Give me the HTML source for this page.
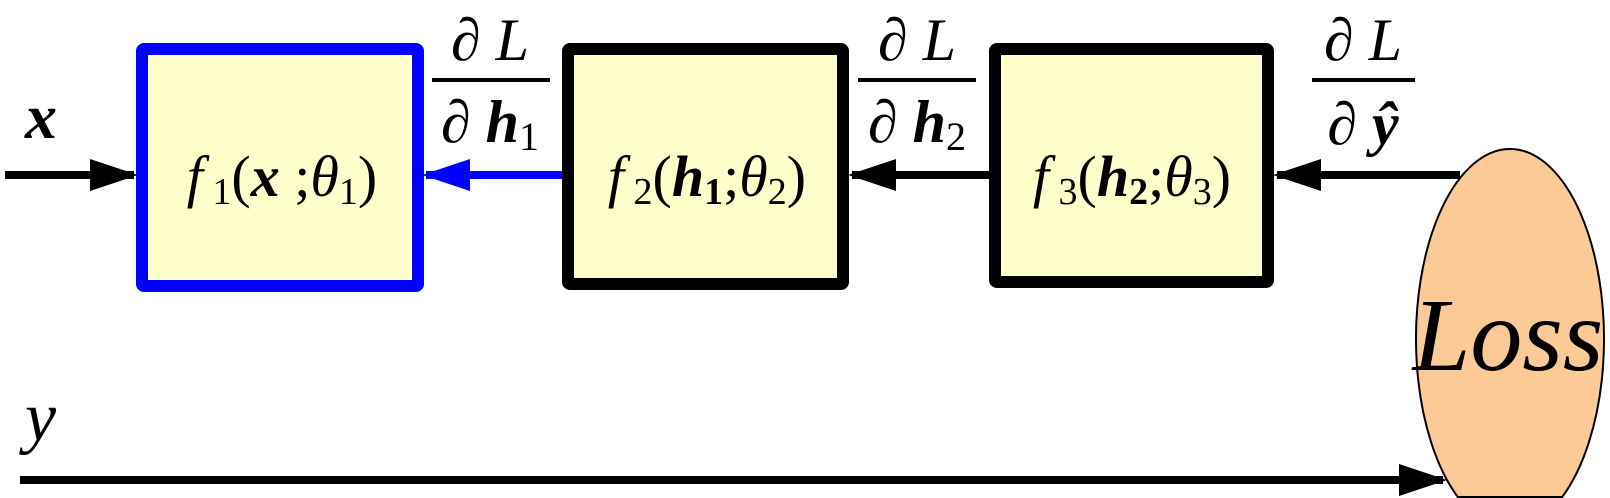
<!DOCTYPE html>
<html><head><meta charset="utf-8"><style>
html,body{margin:0;padding:0;background:#fff;width:1610px;height:498px;overflow:hidden}
svg{display:block;overflow:hidden}
text,tspan{font-family:"Liberation Serif","DejaVu Serif",serif}
</style></head><body>
<svg width="1610" height="498" viewBox="0 0 1610 498" font-family="Liberation Serif, DejaVu Serif, serif">
<defs>
<marker id="ab" markerWidth="6" markerHeight="4" refX="5.5" refY="2" orient="auto" markerUnits="strokeWidth"><path d="M0,0 L6,2 L0,4 Z" fill="#000"/></marker>
<marker id="au" markerWidth="6" markerHeight="4" refX="5.5" refY="2" orient="auto" markerUnits="strokeWidth"><path d="M0,0 L6,2 L0,4 Z" fill="#0000ff"/></marker>
</defs>
<line x1="5" y1="175" x2="134" y2="175" stroke="#000" stroke-width="8" marker-end="url(#ab)"/>
<line x1="562" y1="175" x2="426" y2="175" stroke="#0000ff" stroke-width="8" marker-end="url(#au)"/>
<line x1="989" y1="175" x2="852" y2="175" stroke="#000" stroke-width="8" marker-end="url(#ab)"/>
<line x1="1460" y1="175" x2="1277" y2="175" stroke="#000" stroke-width="8" marker-end="url(#ab)"/>
<line x1="20" y1="480" x2="1443" y2="480" stroke="#000" stroke-width="8" marker-end="url(#ab)"/>
<rect x="142" y="49" width="276" height="237" fill="#ffffcc" stroke="#0000ff" stroke-width="12" rx="2"/>
<rect x="568" y="49" width="275" height="235" fill="#ffffcc" stroke="#000" stroke-width="12" rx="2"/>
<rect x="995" y="49" width="273" height="233" fill="#ffffcc" stroke="#000" stroke-width="12" rx="2"/>
<path d="M1457.8,497 A94,190 0 1 1 1562.2,497 Z" fill="#fcca96" stroke="#000" stroke-width="2"/>
<text x="25" y="138" font-size="64" font-weight="bold" font-style="italic">x</text>
<text x="25" y="440" font-size="70" font-style="italic">y</text>
<text x="282" y="196" font-size="58" text-anchor="middle"><tspan font-style="italic">f</tspan><tspan font-size="38" dy="8"> 1</tspan><tspan dy="-8">(</tspan><tspan font-weight="bold" font-style="italic">x</tspan><tspan> ;</tspan><tspan font-style="italic">θ</tspan><tspan font-size="38" dy="8">1</tspan><tspan dy="-8">)</tspan></text>
<text x="707" y="196" font-size="58" text-anchor="middle"><tspan font-style="italic">f</tspan><tspan font-size="38" dy="8"> 2</tspan><tspan dy="-8">(</tspan><tspan font-weight="bold" font-style="italic">h</tspan><tspan font-size="38" dy="8" font-weight="bold">1</tspan><tspan dy="-8">;</tspan><tspan font-style="italic">θ</tspan><tspan font-size="38" dy="8">2</tspan><tspan dy="-8">)</tspan></text>
<text x="1132" y="196" font-size="58" text-anchor="middle"><tspan font-style="italic">f</tspan><tspan font-size="38" dy="8"> 3</tspan><tspan dy="-8">(</tspan><tspan font-weight="bold" font-style="italic">h</tspan><tspan font-size="38" dy="8" font-weight="bold">2</tspan><tspan dy="-8">;</tspan><tspan font-style="italic">θ</tspan><tspan font-size="38" dy="8">3</tspan><tspan dy="-8">)</tspan></text>
<text x="1508" y="370" font-size="104" font-style="italic" text-anchor="middle">Loss</text>
<g>
<text x="490" y="60" font-size="60" text-anchor="middle">∂ <tspan font-style="italic">L</tspan></text>
<line x1="432" y1="80" x2="550" y2="80" stroke="#000" stroke-width="4"/>
<text x="490" y="142" font-size="60" text-anchor="middle">∂ <tspan font-weight="bold" font-style="italic">h</tspan><tspan font-size="40" dy="8">1</tspan></text>
</g>
<g>
<text x="917" y="60" font-size="60" text-anchor="middle">∂ <tspan font-style="italic">L</tspan></text>
<line x1="858" y1="80" x2="976" y2="80" stroke="#000" stroke-width="4"/>
<text x="917" y="142" font-size="60" text-anchor="middle">∂ <tspan font-weight="bold" font-style="italic">h</tspan><tspan font-size="40" dy="8">2</tspan></text>
</g>
<g>
<text x="1363" y="60" font-size="60" text-anchor="middle">∂ <tspan font-style="italic">L</tspan></text>
<line x1="1312" y1="80" x2="1415" y2="80" stroke="#000" stroke-width="4"/>
<text x="1363" y="144" font-size="60" text-anchor="middle">∂ <tspan font-weight="bold" font-style="italic">ŷ</tspan></text>
</g>
</svg>
</body></html>
